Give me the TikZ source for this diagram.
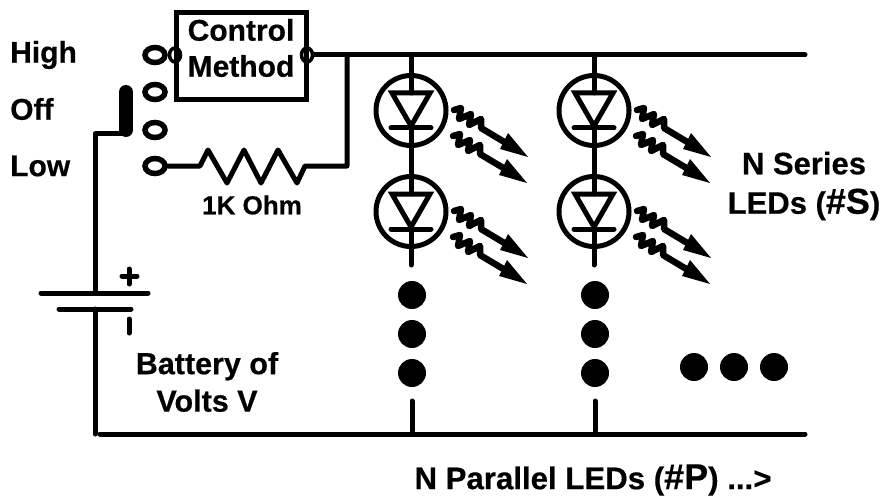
\documentclass[tikz,border=0pt]{standalone}
\usepackage{fontspec}
\setmainfont[BoldFeatures={FakeBold=0.5}]{Liberation Sans}
\usetikzlibrary{shapes.geometric}
\newcommand{\fsz}[1]{\fontsize{#1}{#1}\selectfont\bfseries}
\tikzset{
  x=1pt,y=-1pt,
  wire/.style={line width=5pt,line cap=round,line join=round,black},
  term/.style={draw,ellipse,line width=5.5pt,minimum width=20pt,minimum height=15pt,inner sep=0pt,fill=white},
  smallterm/.style={draw,ellipse,line width=3.5pt,minimum width=11pt,minimum height=14pt,inner sep=0pt},
  bigdot/.style={circle,fill=black,minimum size=28pt,inner sep=0pt},
  lab/.style={inner sep=0pt,align=center,text=black},
  ledring/.style={draw,circle,line width=5pt,minimum size=70pt,inner sep=0pt},
  ray/.pic={
    \draw[line width=6.5pt,line join=round,line cap=round] (0,0)--(7,-2)--(5,9)--(17,4)--(15,15)--(27,9)--(27,18)--(52,33);
    \fill (74,47)--(54,23)--(46,39)--cycle;
  },
}
\begin{document}
\begin{tikzpicture}
\useasboundingbox (0,0) rectangle (882,497);
% box
\node[draw,line width=5pt,minimum width=130pt,minimum height=87pt,inner sep=0pt] (ctrl) at (241,56) {};
\node[lab] (ctrltxt) at (241,48) {\fsz{30}Control\\[13pt]\fsz{30}Method};
% terminals
\node[term] (t1) at (155,55) {};
\node[term] (t2) at (155,92) {};
\node[term] (t3) at (155,130) {};
\node[term] (t4) at (155,166) {};
\node[smallterm] (ci) at (175,55) {};
\node[smallterm] (co) at (307,55) {};
% labels
\node[lab,anchor=west] (lh) at (10,55) {\fsz{30}High};
\node[lab,anchor=west] (lo) at (10,109) {\fsz{30}Off};
\node[lab,anchor=west] (ll) at (10,166) {\fsz{30}Low};
\node[lab] (lr) at (252,205) {\fsz{26}1K Ohm};
\node[lab] (lb) at (207,382) {\fsz{30.5}Battery of\\[8pt]\fsz{30.5}Volts V};
\node[lab] (ls) at (804,186) {\fsz{31}N Series\\[13pt]\fsz{31}LEDs (\fsz{36}\#S\fsz{31})};
\node[lab] (lp) at (593,480) {\fsz{31.2}N Parallel LEDs (\fsz{36}\#P\fsz{31.2}) ...>};
% wires
\coordinate (topend) at (805,55);
\coordinate (j1) at (347,55);
\coordinate (j2) at (347,166);
\draw[wire] (co) -- (topend);
\draw[wire] (j1) -- (j2) -- (305,166) -- (297,183) -- (278,150) -- (261,183) -- (244,150) -- (227,183) -- (208,150) -- (200,166) -- (t4);
% switch arm
\coordinate (sw1) at (126,92);
\coordinate (sw2) at (126,134);
\draw[line width=14pt,line cap=round,line join=round] (sw1) -- (126,130);
\coordinate (bt) at (95,293);
\coordinate (bb) at (95,309);
\draw[wire] (sw2) -- (95,134) -- (bt);
% battery
\coordinate (p1) at (41,293);
\coordinate (p2) at (148,293);
\coordinate (n1) at (59,309);
\coordinate (n2) at (131,309);
\draw[wire] (p1) -- (p2);
\draw[wire] (n1) -- (n2);
\coordinate (bl) at (95,434);
\coordinate (blr) at (100,434);
\coordinate (brr) at (805,434);
\draw[wire] (bb) -- (bl);
\draw[wire] (blr) -- (brr);
\draw[wire] (122,276) -- (137,276) (129,269) -- (129,284);
\draw[wire] (129,319) -- (129,333);
% LED columns
\foreach \cx/\k in {411/a,594/b}{
  \node[ledring] (led1\k) at (\cx,110.5) {};
  \node[ledring] (led2\k) at (\cx,211.5) {};
  \draw[wire] (\cx,55) -- (\cx,93);
  \draw[wire,line join=miter] (\cx-19,93) -- (\cx+19,93) -- (\cx,126) -- cycle;
  \draw[wire] (\cx-20,128) -- (\cx+20,128);
  \draw[wire] (\cx,127) -- (\cx,194);
  \draw[wire,line join=miter] (\cx-19,194) -- (\cx+19,194) -- (\cx,227) -- cycle;
  \draw[wire] (\cx-20,229) -- (\cx+20,229);
  \draw[wire] (\cx,228) -- (\cx,265);
  \pic at (\cx+43,110) {ray};
  \pic at (\cx+42,136) {ray};
  \pic at (\cx+43,211) {ray};
  \pic at (\cx+42,237) {ray};
  \node[bigdot] (d1\k) at (\cx+1,295) {};
  \node[bigdot] (d2\k) at (\cx+1,334) {};
  \node[bigdot] (d3\k) at (\cx+1,373) {};
  \draw[wire] (\cx+1,401) -- (\cx+1,431);
}
\node[bigdot] (e1) at (694,367) {};
\node[bigdot] (e2) at (734,367) {};
\node[bigdot] (e3) at (774,367) {};
\end{tikzpicture}
\end{document}
